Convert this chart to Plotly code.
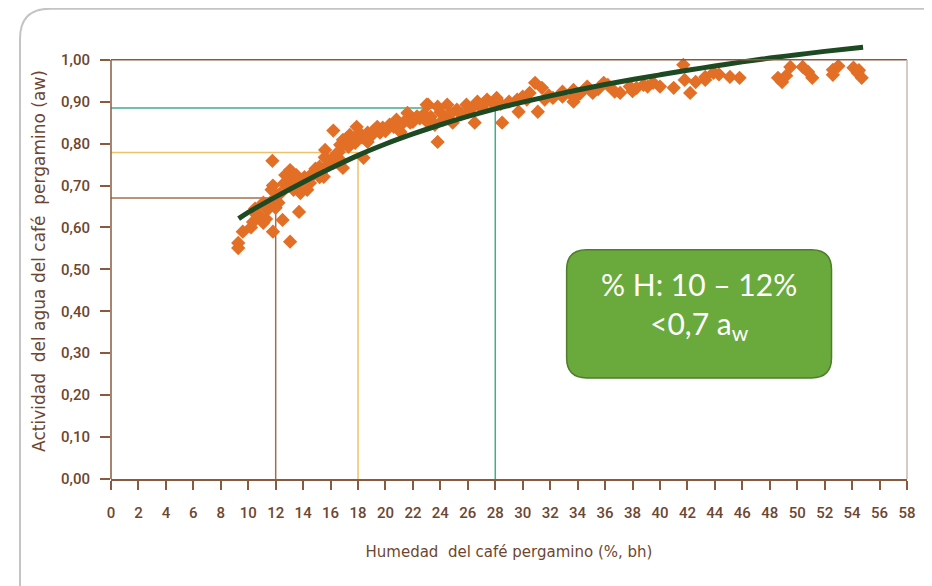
import plotly.graph_objects as go

# Scatter data
moisture = [9.27, 9.27, 9.6, 10.35, 10.6, 10.9, 11.1, 11.1, 11.4, 11.6, 11.7, 11.8, 11.76, 11.8, 12.0, 12.2, 12.5, 12.3,
            12.7, 12.8, 13.05, 13.05, 13.3, 13.5, 13.7, 13.8, 14.0, 14.3, 14.3, 14.5, 14.7, 15.2, 15.2, 15.5, 15.6, 15.6,
            15.6, 16.1, 16.2, 16.2, 16.7, 16.7, 16.9, 16.9, 17.3, 17.4, 17.8, 17.9, 18.1, 18.4, 18.7, 18.7, 19.2, 19.6,
            19.8, 20.3, 20.8, 21.1, 21.6, 21.8, 22.0, 22.5, 23.0, 23.1, 23.1, 23.3, 23.6, 23.8, 23.8, 24.2, 24.5, 24.9,
            25.2, 25.9, 26.4, 26.5, 26.7, 27.4, 27.8, 28.1, 28.5, 29.6, 29.7, 30.0, 30.5, 30.9, 31.1, 31.4, 31.6, 32.2,
            32.9, 32.9, 33.7, 33.7, 33.7, 33.8, 34.7, 35.1, 35.9, 36.7, 37.1, 37.8, 38.3, 38.8, 39.1, 40.0, 41.0, 41.7,
            41.8, 42.2, 42.6, 43.3, 43.3, 43.9, 45.1, 45.8, 48.6, 48.9, 49.5, 50.4, 50.8, 51.1, 52.6, 52.6, 54.1, 54.4,
            54.7,
            10.2, 10.5, 11.3, 11.9, 12.6, 13.0, 13.2, 13.6, 14.1, 14.6, 14.9, 15.3, 15.9, 16.4, 16.6, 17.0, 17.6, 18.3,
            19.0, 19.4, 20.0, 20.6, 21.3, 22.3, 22.8, 24.0, 24.7, 25.5, 26.0, 27.0, 27.2, 28.4, 29.0, 30.3, 31.9, 34.2,
            35.5, 36.2, 38.0, 39.5, 44.3, 49.2, 53.0, 54.5]
aw = [0.551, 0.563, 0.59, 0.613, 0.63, 0.625, 0.611, 0.659, 0.642, 0.659, 0.69, 0.70, 0.759, 0.59, 0.647, 0.659, 0.618, 0.68,
      0.725, 0.697, 0.737, 0.566, 0.69, 0.725, 0.637, 0.682, 0.714, 0.69, 0.714, 0.706, 0.73, 0.72, 0.745, 0.721, 0.768, 0.785,
      0.766, 0.761, 0.754, 0.831, 0.761, 0.797, 0.742, 0.809, 0.792, 0.821, 0.802, 0.84, 0.826, 0.766, 0.826, 0.804, 0.833, 0.826,
      0.838, 0.845, 0.857, 0.828, 0.873, 0.85, 0.852, 0.86, 0.893, 0.85, 0.893, 0.864, 0.845, 0.804, 0.888, 0.857, 0.893, 0.85,
      0.881, 0.893, 0.888, 0.85, 0.90, 0.905, 0.897, 0.909, 0.85, 0.905, 0.876, 0.912, 0.921, 0.945, 0.876, 0.933, 0.905, 0.909,
      0.912, 0.924, 0.912, 0.90, 0.928, 0.909, 0.936, 0.921, 0.945, 0.924, 0.921, 0.936, 0.933, 0.94, 0.936, 0.936, 0.933, 0.988,
      0.952, 0.921, 0.947, 0.952, 0.959, 0.969, 0.959, 0.957, 0.957, 0.947, 0.983, 0.983, 0.971, 0.957, 0.976, 0.964, 0.981, 0.969,
      0.957,
      0.60, 0.645, 0.62, 0.665, 0.705, 0.70, 0.715, 0.70, 0.72, 0.722, 0.74, 0.73, 0.75, 0.775, 0.78, 0.80, 0.81, 0.815,
      0.82, 0.84, 0.83, 0.84, 0.85, 0.865, 0.87, 0.875, 0.87, 0.87, 0.875, 0.885, 0.895, 0.895, 0.90, 0.905, 0.915, 0.92,
      0.93, 0.94, 0.925, 0.945, 0.965, 0.962, 0.985, 0.975]

# Fitted curve
curve_x = [9.3, 10, 12, 14, 16, 18, 20, 22, 24, 26, 28, 30, 32, 34, 36, 38, 40, 42, 44, 46, 48, 50, 52, 54.8]
curve_y = [0.621, 0.636, 0.673, 0.708, 0.741, 0.772, 0.799, 0.823, 0.845, 0.865, 0.883, 0.899, 0.914, 0.928,
           0.941, 0.953, 0.964, 0.975, 0.985, 0.995, 1.004, 1.012, 1.020, 1.030]

# Reference guide points
guide_x = [12, 18, 28]
guide_y = [0.67, 0.779, 0.885]
guide_colors = ["#a0704e", "#eec26a", "#3fae8c"]

x_ticks = list(range(0, 60, 2))
x_labels = [str(v) for v in x_ticks]
y_ticks = [i / 10 for i in range(11)]
y_labels = ["0,00", "0,10", "0,20", "0,30", "0,40", "0,50", "0,60", "0,70", "0,80", "0,90", "1,00"]

Y_TOP = 1.04      # axis range top (so the curve may rise above 1,00)
Y_FRAME = 1.0     # frame top
brown = "#6e4630"
axis_col = "#8a5a40"
tick_font = "Roboto, sans-serif"
title_font = "DejaVu Sans, sans-serif"

fig = go.Figure()
fig.add_trace(go.Scatter(x=moisture, y=aw, mode="markers",
                         marker=dict(symbol="diamond", size=11, color="#e36f26"),
                         showlegend=False, hoverinfo="skip"))
fig.add_trace(go.Scatter(x=curve_x, y=curve_y, mode="lines",
                         line=dict(color="#1d4a22", width=5, shape="spline"),
                         showlegend=False, hoverinfo="skip"))

shapes = []
for gx, gy, gc in zip(guide_x, guide_y, guide_colors):
    shapes.append(dict(type="line", xref="x", yref="y", x0=0, x1=gx, y0=gy, y1=gy,
                       line=dict(color=gc, width=1.5), layer="below"))
    shapes.append(dict(type="line", xref="x", yref="y", x0=gx, x1=gx, y0=0, y1=gy,
                       line=dict(color=gc, width=1.5), layer="below"))

pf = Y_FRAME / Y_TOP
# y axis line, top line and right border of plot frame
shapes.append(dict(type="line", xref="paper", yref="paper", x0=0, x1=0, y0=0, y1=pf,
                   line=dict(color=axis_col, width=1.5)))
shapes.append(dict(type="line", xref="paper", yref="paper", x0=0, x1=1, y0=pf, y1=pf,
                   line=dict(color=axis_col, width=1.5)))
shapes.append(dict(type="line", xref="paper", yref="paper", x0=1, x1=1, y0=0, y1=pf,
                   line=dict(color="#c9b8ae", width=1.5)))

# outer card border (rounded top-left)
shapes.append(dict(type="path", xref="paper", yref="paper",
                   path="M -0.1143,-0.26 L -0.1143,1.010 Q -0.1143,1.0786 -0.0766,1.0786 L 1.03,1.0786",
                   line=dict(color="#c4c4c4", width=2)))

# green callout box with rounded corners (data coords)
bx0, bx1, by0, by1 = 33.2, 52.5, 0.241, 0.547
rx, ry = 1.45, 0.048
path = (f"M {bx0+rx},{by0} L {bx1-rx},{by0} Q {bx1},{by0} {bx1},{by0+ry} "
        f"L {bx1},{by1-ry} Q {bx1},{by1} {bx1-rx},{by1} L {bx0+rx},{by1} "
        f"Q {bx0},{by1} {bx0},{by1-ry} L {bx0},{by0+ry} Q {bx0},{by0} {bx0+rx},{by0} Z")
shapes.append(dict(type="path", xref="x", yref="y", path=path,
                   fillcolor="#6aaa3c", line=dict(color="#4e7d2c", width=1.5)))

fig.update_layout(
    width=932, height=586,
    margin=dict(l=103, r=33, t=35.24, b=115),
    paper_bgcolor="white", plot_bgcolor="white",
    shapes=shapes,
    font=dict(family=tick_font, color=brown, size=14),
    annotations=[
        dict(x=(bx0 + bx1) / 2, y=0.413, xref="x", yref="y", showarrow=False,
             text="% H: 10 – 12%<br>&lt;0,7 a<sub>w</sub>",
             font=dict(family="Lato, Open Sans, sans-serif", size=30, color="white"),
             align="center"),
    ],
)
fig.update_xaxes(range=[0, 58], tickvals=x_ticks, ticktext=x_labels,
                 showgrid=False, zeroline=False, showline=True, linecolor=axis_col, linewidth=1.5,
                 ticks="outside", ticklen=9, tickcolor=axis_col, tickwidth=1.5,
                 ticklabelstandoff=10,
                 tickfont=dict(size=15, color=brown, family=tick_font, weight=500),
                 title=dict(text="Humedad  del café pergamino (%, bh)",
                            font=dict(size=15, color=brown, family=title_font), standoff=26))
fig.update_yaxes(range=[0, Y_TOP], tickvals=y_ticks, ticktext=y_labels,
                 showgrid=False, zeroline=False, showline=False,
                 ticks="outside", ticklen=10, tickcolor=axis_col, tickwidth=1.5,
                 ticklabelstandoff=7,
                 tickfont=dict(size=15, color=brown, family=tick_font, weight=500),
                 title=dict(text="Actividad  del agua del café  pergamino (aw)",
                            font=dict(size=17, color=brown, family=title_font), standoff=11))

fig.write_html("out.html")
